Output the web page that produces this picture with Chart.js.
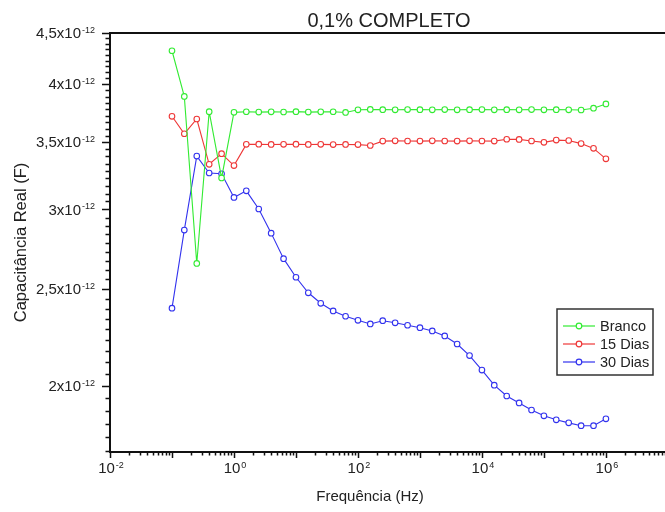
<!DOCTYPE html>
<html>
<head>
<meta charset="utf-8">
<script src="https://cdn.jsdelivr.net/npm/chart.js@4/dist/chart.umd.min.js"></script>
<style>
  html, body { margin: 0; padding: 0; overflow: hidden; background: #fff; }
</style>
</head>
<body>
<canvas id="chart" width="673" height="512"></canvas>
<script>
// frequencias (Hz), 5 pontos por decada
const freqs = [0.1, 0.158, 0.251, 0.398, 0.631,
  1, 1.58, 2.51, 3.98, 6.31,
  10, 15.8, 25.1, 39.8, 63.1,
  100, 158, 251, 398, 631,
  1000, 1580, 2510, 3980, 6310,
  10000, 15800, 25100, 39800, 63100,
  100000, 158000, 251000, 398000, 631000,
  1000000];

// capacitancia real em unidades de 1e-12 F
const branco = [4.32, 3.89, 2.65, 3.756, 3.225,
  3.75, 3.755, 3.752, 3.754, 3.753,
  3.756, 3.752, 3.754, 3.755, 3.749,
  3.772, 3.775, 3.773, 3.772, 3.774,
  3.773, 3.772, 3.774, 3.772, 3.773,
  3.774, 3.772, 3.773, 3.772, 3.774,
  3.772, 3.773, 3.772, 3.77, 3.786,
  3.823];
const quinzeDias = [3.716, 3.57, 3.693, 3.328, 3.41,
  3.318, 3.484, 3.485, 3.483, 3.484,
  3.485, 3.483, 3.484, 3.482, 3.483,
  3.482, 3.475, 3.51, 3.512, 3.511,
  3.51, 3.512, 3.511, 3.51, 3.512,
  3.511, 3.51, 3.525, 3.524, 3.511,
  3.5, 3.518, 3.515, 3.49, 3.452,
  3.37];
const trintaDias = [2.391, 2.861, 3.391, 3.262, 3.256,
  3.084, 3.131, 3.003, 2.841, 2.679,
  2.567, 2.477, 2.418, 2.376, 2.347,
  2.325, 2.306, 2.323, 2.312, 2.299,
  2.286, 2.269, 2.243, 2.202, 2.144,
  2.074, 2.003, 1.954, 1.923, 1.892,
  1.867, 1.85, 1.837, 1.825, 1.825,
  1.854];

const seriesNames = ["Branco", "15 Dias", "30 Dias"];
const seriesColors = ["rgb(50,235,50)", "rgb(238,55,55)", "rgb(50,50,238)"];

const yTicks = [2, 2.5, 3, 3.5, 4, 4.5];
const yTickLabels = ["2", "2,5", "3", "3,5", "4", "4,5"];
const xTickExps = [-2, 0, 2, 4, 6];

const FONT = "'Liberation Sans', Arial, sans-serif";

function supText(ctx, base, sup, x, y, align, baseSize, supSize, supRaise) {
  ctx.font = baseSize + "px " + FONT;
  const wb = ctx.measureText(base).width;
  ctx.font = supSize + "px " + FONT;
  const ws = ctx.measureText(sup).width;
  let x0 = x;
  if (align === "right") x0 = x - wb - ws - 1;
  if (align === "center") x0 = x - (wb + ws + 1) / 2;
  ctx.textAlign = "left";
  ctx.textBaseline = "middle";
  ctx.font = baseSize + "px " + FONT;
  ctx.fillText(base, x0, y);
  ctx.textBaseline = "alphabetic";
  ctx.font = supSize + "px " + FONT;
  ctx.fillText(sup, x0 + wb + 1, y + supRaise);
}

const eixos = {
  id: "eixos",
  afterDraw(chart) {
    const ctx = chart.ctx;
    const a = chart.chartArea;
    const xs = chart.scales.x;
    const ys = chart.scales.y;
    ctx.save();
    ctx.fillStyle = "#111";
    ctx.strokeStyle = "#111";

    // moldura
    ctx.lineWidth = 2;
    ctx.beginPath();
    ctx.moveTo(a.left, a.top);
    ctx.lineTo(a.right, a.top);
    ctx.moveTo(a.left, a.top - 1);
    ctx.lineTo(a.left, a.bottom + 1);
    ctx.moveTo(a.left - 1, a.bottom);
    ctx.lineTo(a.right, a.bottom);
    ctx.stroke();

    // ticks eixo x
    ctx.lineWidth = 1.5;
    ctx.beginPath();
    for (let e = -2; e <= 7; e++) {
      for (let m = 1; m <= 9; m++) {
        const v = m * Math.pow(10, e);
        if (v > xs.max * 1.0001) break;
        const px = Math.round(xs.getPixelForValue(v)) + 0.5;
        const len = m === 1 ? 6 : 3.5;
        ctx.moveTo(px, a.bottom);
        ctx.lineTo(px, a.bottom + len);
      }
    }
    ctx.stroke();

    // ticks eixo y (8 menores entre maiores)
    ctx.beginPath();
    for (let i = -1; i < yTicks.length; i++) {
      const lo = i < 0 ? 1.5 : yTicks[i];
      for (let k = 0; k < 9; k++) {
        const v = lo + k * 0.5 / 9;
        if (v < ys.min * 0.999 || v > ys.max * 1.0001) continue;
        const py = Math.round(ys.getPixelForValue(v)) + 0.5;
        const len = k === 0 ? 8 : 4.5;
        ctx.moveTo(a.left, py);
        ctx.lineTo(a.left - len, py);
      }
    }
    ctx.stroke();

    // rotulos
    ctx.fillStyle = "#222";
    yTicks.forEach((v, i) => {
      const py = ys.getPixelForValue(v);
      supText(ctx, yTickLabels[i] + "x10", "-12", 95, py + 1, "right", 15, 9, -1);
    });
    xTickExps.forEach((e) => {
      const px = xs.getPixelForValue(Math.pow(10, e));
      supText(ctx, "10", String(e), px + 1, 469, "center", 15, 9, -1);
    });

    // titulos
    ctx.textAlign = "center";
    ctx.textBaseline = "middle";
    ctx.font = "20px " + FONT;
    ctx.fillText("0,1% COMPLETO", (a.left + a.right) / 2, 21);
    ctx.font = "15px " + FONT;
    ctx.fillText("Frequência (Hz)", 370, 497);
    ctx.save();
    ctx.translate(21, (a.top + a.bottom) / 2);
    ctx.rotate(-Math.PI / 2);
    ctx.font = "16.5px " + FONT;
    ctx.fillText("Capacitância Real (F)", 0, 0);
    ctx.restore();

    // legenda
    ctx.fillStyle = "#fff";
    ctx.fillRect(557, 309, 96, 66);
    ctx.strokeStyle = "#333";
    ctx.lineWidth = 1.5;
    ctx.strokeRect(557, 309, 96, 66);
    seriesNames.forEach((nome, i) => {
      const ly = 326 + i * 18;
      ctx.strokeStyle = seriesColors[i];
      ctx.lineWidth = 1.2;
      ctx.beginPath();
      ctx.moveTo(563, ly);
      ctx.lineTo(595, ly);
      ctx.stroke();
      ctx.fillStyle = "#fff";
      ctx.beginPath();
      ctx.arc(579, ly, 2.8, 0, Math.PI * 2);
      ctx.fill();
      ctx.stroke();
      ctx.fillStyle = "#222";
      ctx.font = "14.5px " + FONT;
      ctx.textAlign = "left";
      ctx.textBaseline = "middle";
      ctx.fillText(nome, 600, ly + 1);
    });
    ctx.restore();
  }
};

function serie(vals) {
  return freqs.map((f, i) => ({ x: f, y: vals[i] }));
}

const dadosSeries = [branco, quinzeDias, trintaDias];

new Chart(document.getElementById("chart"), {
  type: "line",
  data: {
    datasets: dadosSeries.map((vals, i) => ({
      label: seriesNames[i],
      data: serie(vals),
      borderColor: seriesColors[i],
      backgroundColor: "#fff",
      pointBackgroundColor: "#fff",
      pointBorderColor: seriesColors[i],
      pointRadius: 2.8,
      pointBorderWidth: 1.1,
      borderWidth: 1.1,
      tension: 0,
      fill: false,
    })),
  },
  options: {
    responsive: false,
    animation: false,
    layout: { padding: { left: 0, right: 1, top: 33, bottom: 0 } },
    plugins: {
      legend: { display: false },
      tooltip: { enabled: false },
    },
    scales: {
      x: {
        type: "logarithmic",
        min: 0.01,
        max: 1e7,
        bounds: "data",
        grid: { display: false },
        border: { display: false },
        ticks: { display: false },
        afterFit(scale) { scale.height = 60; },
      },
      y: {
        type: "logarithmic",
        min: 1.718,
        max: 4.5,
        bounds: "data",
        grid: { display: false },
        border: { display: false },
        ticks: { display: false },
        afterFit(scale) { scale.width = 110; },
      },
    },
  },
  plugins: [eixos],
});
</script>
</body>
</html>
